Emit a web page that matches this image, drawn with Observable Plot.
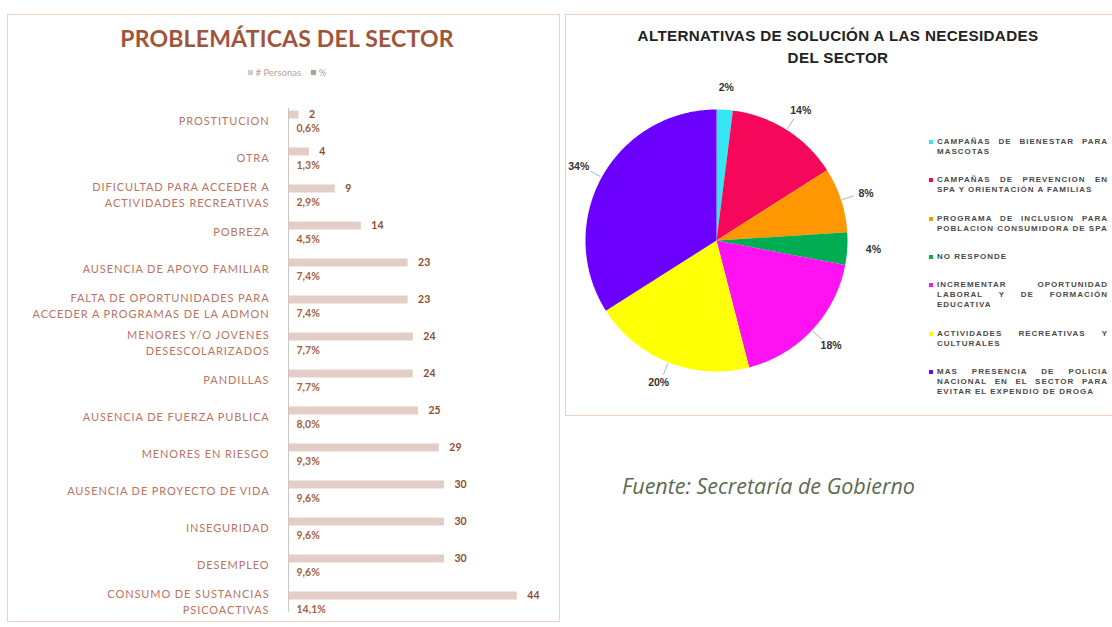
<!DOCTYPE html>
<html><head><meta charset="utf-8">
<script src="https://cdn.jsdelivr.net/npm/d3@7"></script>
<script src="https://cdn.jsdelivr.net/npm/@observablehq/plot@0.6"></script>
<style>
body{margin:0;width:1112px;height:627px;position:relative;background:#fff;font-family:Lato,sans-serif;overflow:hidden}
#leftbox{position:absolute;left:7px;top:14px;width:553px;height:608px;border:1px solid #ecd3c7;box-sizing:border-box}
#rightbox{position:absolute;left:565px;top:14px;width:560px;height:402px;border:1px solid #f0cdbd;box-sizing:border-box}
#ltitle{position:absolute;left:0;top:24px;width:574px;text-align:center;font-size:23px;font-weight:bold;color:#a0553a;letter-spacing:0.2px}
#llegend{position:absolute;left:0;top:67px;width:574px;text-align:center;font-size:9.5px;color:#b3a39c}
#llegend i{display:inline-block;width:5px;height:5px;margin-right:3px;vertical-align:1px}
#lchart{position:absolute;left:0;top:96px}
#lchart .lbl text{letter-spacing:0.9px}
#rtitle{position:absolute;left:565px;top:25px;width:546px;text-align:center;font-size:15.2px;font-weight:bold;color:#222;line-height:22px;font-family:"Liberation Sans",Arial,sans-serif;letter-spacing:0.35px}
#pie{position:absolute;left:565px;top:75px}
#plegend{position:absolute;left:929px;top:137px;width:179px;height:260px;display:flex;flex-direction:column;justify-content:space-between}
#plegend div{position:relative;padding-left:8px;font-family:"Liberation Sans",Arial,sans-serif;font-size:8px;font-weight:bold;line-height:10px;color:#4a4a4a;text-align:justify;letter-spacing:1px}
#plegend div i{position:absolute;left:0;top:3px;width:4px;height:4px}
#fuente{position:absolute;left:622px;top:471px;font-size:21.5px;font-style:italic;color:#5b6b50;font-family:"Open Sans",sans-serif}
</style></head>
<body>
<div id="leftbox"></div>
<div id="rightbox"></div>
<div id="ltitle">PROBLEMÁTICAS DEL SECTOR</div>
<div id="llegend"><i style="background:#d9ccc7"></i># Personas &nbsp;&nbsp; <i style="background:#b99c92"></i>%</div>
<div id="lchart"></div>
<div id="rtitle">ALTERNATIVAS DE SOLUCIÓN A LAS NECESIDADES<br>DEL SECTOR</div>
<div id="pie"></div>
<div id="plegend"></div>
<div id="fuente">Fuente: Secretaría de Gobierno</div>
<script>
// ---- Data: left chart ----
const categories = [
  "PROSTITUCION",
  "OTRA",
  "DIFICULTAD PARA ACCEDER A\nACTIVIDADES RECREATIVAS",
  "POBREZA",
  "AUSENCIA DE APOYO FAMILIAR",
  "FALTA DE OPORTUNIDADES PARA\nACCEDER A PROGRAMAS DE LA ADMON",
  "MENORES Y/O JOVENES\nDESESCOLARIZADOS",
  "PANDILLAS",
  "AUSENCIA DE FUERZA PUBLICA",
  "MENORES EN RIESGO",
  "AUSENCIA DE PROYECTO DE VIDA",
  "INSEGURIDAD",
  "DESEMPLEO",
  "CONSUMO DE SUSTANCIAS\nPSICOACTIVAS"
];
const personas = [2, 4, 9, 14, 23, 23, 24, 24, 25, 29, 30, 30, 30, 44];
const porcentaje = [0.6, 1.3, 2.9, 4.5, 7.4, 7.4, 7.7, 7.7, 8.0, 9.3, 9.6, 9.6, 9.6, 14.1];

// ---- Data: pie chart ----
const alternativas = [
  "CAMPAÑAS DE BIENESTAR PARA MASCOTAS",
  "CAMPAÑAS DE PREVENCION EN SPA Y ORIENTACIÓN A FAMILIAS",
  "PROGRAMA DE INCLUSION PARA POBLACION CONSUMIDORA DE SPA",
  "NO RESPONDE",
  "INCREMENTAR OPORTUNIDAD LABORAL Y DE FORMACIÓN EDUCATIVA",
  "ACTIVIDADES RECREATIVAS Y CULTURALES",
  "MAS PRESENCIA DE POLICIA NACIONAL EN EL SECTOR PARA EVITAR EL EXPENDIO DE DROGA"
];
const pctAlternativas = [2, 14, 8, 4, 18, 20, 34];
const paleta = ["#35e6f2", "#f5085a", "#ff9800", "#00ad52", "#ff12f2", "#ffff06", "#6b00ff"];

// ---- Left bar chart ----
const rows = categories.map((c, i) => ({cat: c, n: personas[i], p: porcentaje[i]}));
const fmtPct = v => v.toFixed(1).replace(".", ",") + "%";

const left = Plot.plot({
  width: 560, height: 528,
  marginLeft: 288, marginRight: 12, marginTop: 2, marginBottom: 3,
  style: {fontFamily: "Lato, sans-serif", background: "transparent"},
  x: {domain: [0, 50], axis: null},
  y: {domain: categories, padding: 0, axis: null},
  marks: [
    Plot.axisY({tickSize: 0, tickPadding: 19, fontSize: 11, color: "#b87464", lineHeight: 1.45,
      label: null, className: "lbl"}),
    Plot.barX(rows, {x: "n", y: "cat", fill: "#e2cec6", insetTop: 9.5, insetBottom: 19.5}),
    Plot.ruleX([0], {stroke: "#cfc5c1", insetTop: 10, insetBottom: 9}),
    Plot.text(rows, {x: "n", y: "cat", text: d => String(d.n), dx: 10, dy: -5, textAnchor: "start",
      fill: "#8e4b2f", fontWeight: "bold", fontSize: 10.5}),
    Plot.text(rows, {x: () => 0, y: "cat", text: d => fmtPct(d.p), dx: 8, dy: 9, textAnchor: "start",
      fill: "#a4603f", fontWeight: "bold", fontSize: 10.5})
  ]
});
document.getElementById("lchart").appendChild(left);

// ---- Pie chart ----
const R = 131, W = 330, H = 345, CX = 151, CY = 165;
const arcs = d3.pie().sort(null).value(d => d)(pctAlternativas).map((a, i) => ({
  key: alternativas[i], pct: pctAlternativas[i], a0: a.startAngle, a1: a.endAngle,
  mid: (a.startAngle + a.endAngle) / 2
}));
const pts = [];
arcs.forEach(a => {
  const n = Math.max(2, Math.ceil((a.a1 - a.a0) / 0.01));
  pts.push({key: a.key, x: 0, y: 0});
  for (let j = 0; j <= n; j++) {
    const t = a.a0 + (a.a1 - a.a0) * j / n;
    pts.push({key: a.key, x: Math.sin(t), y: Math.cos(t)});
  }
});

const pie = Plot.plot({
  width: W, height: H, margin: 0,
  style: {fontFamily: "'Liberation Sans', Arial, sans-serif", background: "transparent"},
  x: {domain: [-CX / R, (W - CX) / R], axis: null},
  y: {domain: [-(H - CY) / R, CY / R], axis: null},
  color: {domain: alternativas, range: paleta},
  marks: [
    Plot.line(pts, {x: "x", y: "y", z: "key", fill: "key", stroke: "none"}),
    Plot.link(arcs.filter(d => d.pct > 5), {x1: d => 1.01 * Math.sin(d.mid), y1: d => 1.01 * Math.cos(d.mid),
      x2: d => 1.1 * Math.sin(d.mid), y2: d => 1.1 * Math.cos(d.mid), stroke: "#a0a0a0", strokeWidth: 0.8}),
    Plot.text(arcs, {x: d => 1.2 * Math.sin(d.mid), y: d => 1.17 * Math.cos(d.mid),
      text: d => d.pct + "%", fontWeight: "bold", fontSize: 10.5, fill: "#333"})
  ]
});
document.getElementById("pie").appendChild(pie);

// Pie legend (HTML, colours from the same palette as the colour scale)
const leg = document.getElementById("plegend");
alternativas.forEach((t, i) => {
  const d = document.createElement("div");
  const sw = document.createElement("i");
  sw.style.background = paleta[i];
  d.appendChild(sw);
  d.appendChild(document.createTextNode(t));
  leg.appendChild(d);
});
</script>
</body></html>
